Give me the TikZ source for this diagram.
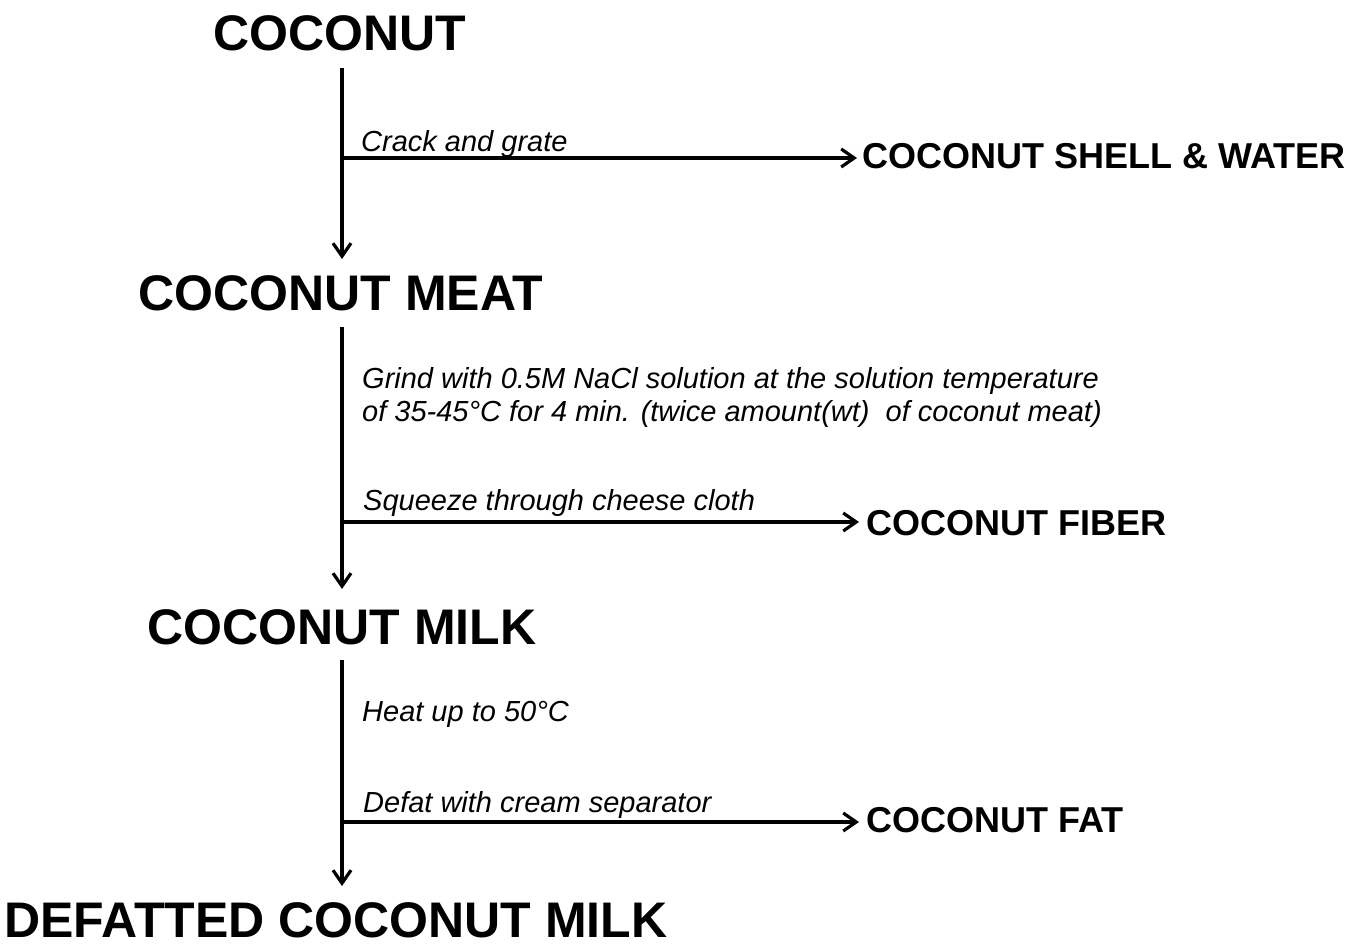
\documentclass[tikz,border=0pt]{standalone}
\usepackage{fontspec}
\setmainfont{Liberation Sans}
\usetikzlibrary{arrows.meta}
\begin{document}
\begin{tikzpicture}[x=1pt,y=-1pt,
  big/.style={font=\fontsize{50}{54}\selectfont\bfseries, inner sep=0pt, anchor=base},
  byprod/.style={font=\fontsize{36}{40}\selectfont\bfseries, inner sep=0pt, anchor=base west},
  lab/.style={font=\fontsize{29}{33}\selectfont\itshape, inner sep=0pt, anchor=base west},
  flow/.style={line width=3.5pt, -{Straight Barb[length=13pt,width=18pt,line width=3.2pt]}}]
\useasboundingbox (0,0) rectangle (1350,944);
% main products
\node[big] (coconut) at (340,51) {COCONUT};
\node[big] (meat) at (341,310) {COCONUT MEAT};
\node[big] (milk) at (342,644) {COCONUT MILK};
\node[big] (defat) at (336,937) {DEFATTED COCONUT MILK};
% by-products
\node[byprod] (shell) at (862,169) {COCONUT SHELL \& WATER};
\node[byprod] (fiber) at (866,535) {COCONUT FIBER};
\node[byprod] (fat) at (866,832) {COCONUT FAT};
% coordinates on main line
\coordinate (a1) at (342,68);
\coordinate (a2) at (342,259);
\coordinate (b1) at (342,327);
\coordinate (b2) at (342,589);
\coordinate (c1) at (342,660);
\coordinate (c2) at (342,886);
\coordinate (j1) at (342,158);
\coordinate (j2) at (342,522);
\coordinate (j3) at (342,822);
\coordinate (e1) at (857,158);
\coordinate (e2) at (859,522);
\coordinate (e3) at (859,822);
% labels
\node[lab] (l1) at (361,152) {Crack and grate};
\node[lab] (l2) at (362,388) {Grind with 0.5M NaCl solution at the solution temperature};
\node[lab] (l3) at (362,421) {of 35-45°C for 4 min. (twice amount(wt)\ \ of coconut meat)};
\node[lab] (l4) at (363,510) {Squeeze through cheese cloth};
\node[lab] (l5) at (362,721) {Heat up to 50°C};
\node[lab] (l6) at (363,812) {Defat with cream separator};
% connectors
\draw[flow] (a1) -- (a2);
\draw[flow] (b1) -- (b2);
\draw[flow] (c1) -- (c2);
\draw[flow] (j1) -- (e1);
\draw[flow] (j2) -- (e2);
\draw[flow] (j3) -- (e3);
\end{tikzpicture}
\end{document}
